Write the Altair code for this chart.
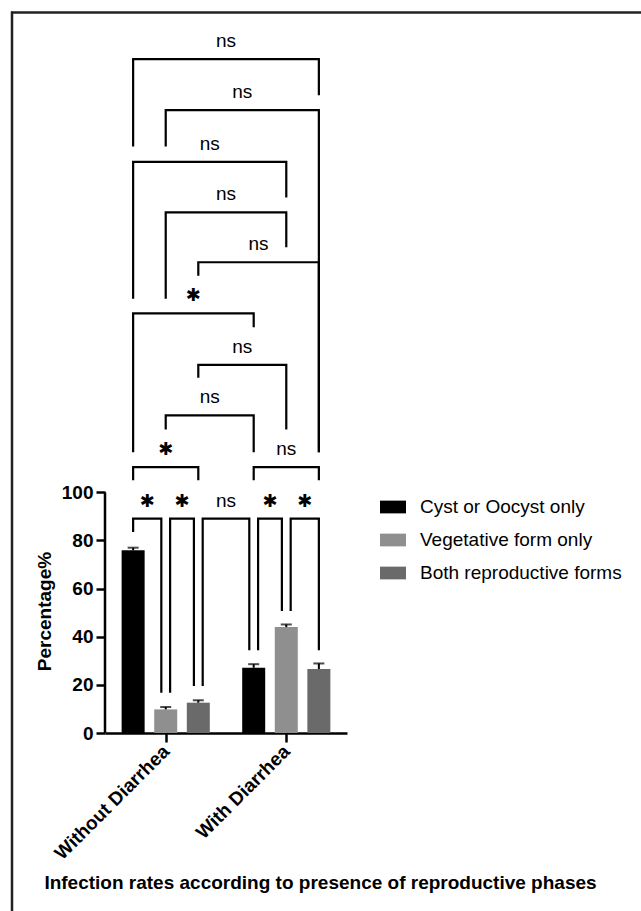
import altair as alt
import pandas as pd

# ---------------- data ----------------
groups = ["Without Diarrhea", "With Diarrhea"]
forms = ["Cyst or Oocyst only", "Vegetative form only", "Both reproductive forms"]
mean_without = [75.9, 9.8, 12.6]
mean_with = [27.1, 44.0, 26.6]
sem_without = [1.1, 1.0, 1.0]
sem_with = [1.5, 1.1, 2.3]
y_ticks = [0, 20, 40, 60, 80, 100]

# pairwise comparisons; bars 0-2 = Without Diarrhea, 3-5 = With Diarrhea (forms order)
comp_from = [0, 1, 2, 3, 4, 0, 3, 1, 2, 0, 2, 1, 0, 1, 0]
comp_to = [1, 2, 3, 4, 5, 2, 5, 3, 4, 3, 5, 4, 4, 5, 5]
comp_label = ["*", "*", "ns", "*", "*", "*", "ns", "ns", "ns", "*", "ns", "ns", "ns", "ns", "ns"]
comp_height = [89.1, 89.1, 89.1, 89.1, 89.1, 110.5, 110.5, 132.0, 153.0, 174.4,
               195.6, 216.3, 237.3, 258.8, 280.0]
comp_from_end = [83.5, 16.7, 19.5, 34.4, 50.7, 105.0, 105.0, 126.1, 147.6, 116.7,
                 190.0, 180.4, 180.4, 243.7, 243.7]
comp_to_end = [16.7, 19.5, 34.4, 50.7, 34.4, 105.0, 105.0, 116.7, 126.1, 168.6,
               116.7, 201.8, 222.5, 116.7, 265.0]

# ---------------- layout helpers ----------------
FONT = "Liberation Sans"
GROUP_STEP = 3.7      # distance between group centres, in bar slots
EDGE = 0.71           # space between outer bars and axis ends, in slots
NUDGE = 0.135         # leg shift where two brackets share a bar on one level
Y_TOP = 300
colors = ["#000000", "#8f8f8f", "#6a6a6a"]


def slot(bar):
    return (bar // 3) * GROUP_STEP + (bar % 3) - 1


means = [mean_without, mean_with]
sems = [sem_without, sem_with]
bar_rows = []
for gi, g in enumerate(groups):
    for fi, f in enumerate(forms):
        bar_rows.append({"group": g, "form": f, "value": means[gi][fi],
                         "top": means[gi][fi] + sems[gi][fi],
                         "slot": slot(gi * 3 + fi)})
bars_df = pd.DataFrame(bar_rows)

line_rows, lab_rows = [], []
n = len(comp_from)
for i in range(n):
    a, b = slot(comp_from[i]), slot(comp_to[i])
    for j in range(n):
        if j != i and comp_height[j] == comp_height[i]:
            if comp_to[j] == comp_from[i]:
                a += NUDGE
            if comp_from[j] == comp_to[i]:
                b -= NUDGE
    pts = [(a, comp_from_end[i]), (a, comp_height[i]), (b, comp_height[i]), (b, comp_to_end[i])]
    for k, (px, py) in enumerate(pts):
        line_rows.append({"cid": i, "pt": k, "slot": px, "value": py})
    lab_rows.append({"slot": (a + b) / 2, "value": comp_height[i], "label": comp_label[i]})
lines_df = pd.DataFrame(line_rows)
labs_df = pd.DataFrame(lab_rows)
ns_df = labs_df[labs_df["label"] == "ns"]
star_df = labs_df[labs_df["label"] == "*"].assign(label="✱")

label_expr = f"datum.value < {GROUP_STEP / 2} ? '{groups[0]}' : '{groups[1]}'"

xscale = alt.Scale(domain=[slot(0) - EDGE, slot(5) + EDGE], nice=False, zero=False)
yscale = alt.Scale(domain=[0, Y_TOP], nice=False, zero=True)

XTITLE = "Infection rates according to presence of reproductive phases"
xaxis = alt.Axis(values=[slot(1), slot(4)], labelExpr=label_expr, labelAngle=-45,
                 labelAlign="right", labelBaseline="middle", labelFont=FONT,
                 labelFontSize=19, labelFontWeight="bold", labelColor="black",
                 labelPadding=6, domainColor="black", domainWidth=2.5,
                 tickColor="black", tickWidth=2.5, tickSize=9, grid=False,
                 title=XTITLE, titleFont=FONT, titleFontSize=19, titleFontWeight="bold",
                 titleColor="black", titleX=215, titleY=155, titleAlign="center",
                 titleBaseline="alphabetic")
yaxis = alt.Axis(values=y_ticks, domain=False, grid=False, tickSize=9, tickWidth=2.5,
                 tickColor="black", labelFont=FONT, labelFontSize=19,
                 labelFontWeight="bold", labelColor="black", labelPadding=3,
                 title="Percentage%", titleFont=FONT, titleFontSize=19,
                 titleFontWeight="bold", titleColor="black", titleX=-55, titleY=600,
                 titleAngle=270, titleAlign="center", titleBaseline="alphabetic")


def X():
    return alt.X("slot:Q", scale=xscale, axis=xaxis, title=XTITLE)


def Y(field="value"):
    return alt.Y(f"{field}:Q", scale=yscale, axis=yaxis, title="Percentage%")


legend = alt.Legend(orient="none", legendX=275, legendY=483, title=None,
                    symbolType="M-1,-0.49H1V0.49H-1Z", symbolSize=676,
                    symbolStrokeWidth=0, labelFont=FONT, labelFontSize=19,
                    labelColor="black", labelOffset=14, labelLimit=0,
                    rowPadding=10, padding=0)

bars = alt.Chart(bars_df).mark_bar(size=23).encode(
    x=X(), y=Y(),
    color=alt.Color("form:N", scale=alt.Scale(domain=forms, range=colors), legend=legend,
                    sort=forms),
)
err = alt.Chart(bars_df).mark_rule(color="black", strokeWidth=2).encode(
    x=X(), y=Y(), y2="top:Q")
cap = alt.Chart(bars_df).mark_tick(color="black", orient="horizontal", size=11,
                                   thickness=2).encode(x=X(), y=Y("top"))

yline = alt.Chart(pd.DataFrame({"lo": [min(y_ticks)], "hi": [max(y_ticks)]})).mark_rule(
    color="black", strokeWidth=2.5).encode(x=alt.value(0), y=Y("lo"), y2="hi:Q")

brackets = alt.Chart(lines_df).mark_line(color="black", strokeWidth=2.2,
                                         strokeJoin="miter", strokeCap="butt").encode(
    x=X(), y=Y(), detail="cid:N", order="pt:Q")

ns_text = alt.Chart(ns_df).mark_text(font=FONT, fontSize=19, baseline="alphabetic",
                                     dy=-12, color="black").encode(
    x=X(), y=Y(), text="label:N")
star_text = alt.Chart(star_df).mark_text(font="DejaVu Sans", fontSize=18,
                                         baseline="middle", dy=-17, color="black").encode(
    x=X(), y=Y(), text="label:N")

frame_top = alt.Chart(pd.DataFrame({"k": [0]})).mark_rule(
    color="#222222", strokeWidth=2.5).encode(x=alt.value(-94), x2=alt.value(536), y=alt.value(1.5))
frame_left = alt.Chart(pd.DataFrame({"k": [0]})).mark_rule(
    color="#222222", strokeWidth=2.5).encode(x=alt.value(-93), y=alt.value(0.5), y2=alt.value(900))

chart = alt.layer(bars, err, cap, yline, brackets, ns_text, star_text,
                  frame_top, frame_left).properties(
    width=242, height=722,
    autosize=alt.AutoSizeParams(type="none"),
    padding={"left": 105, "top": 11, "right": 294, "bottom": 178},
).configure(background="white", view=alt.ViewConfig(stroke=None))

chart.save("out.html", embed_options={"renderer": "svg", "actions": False})
